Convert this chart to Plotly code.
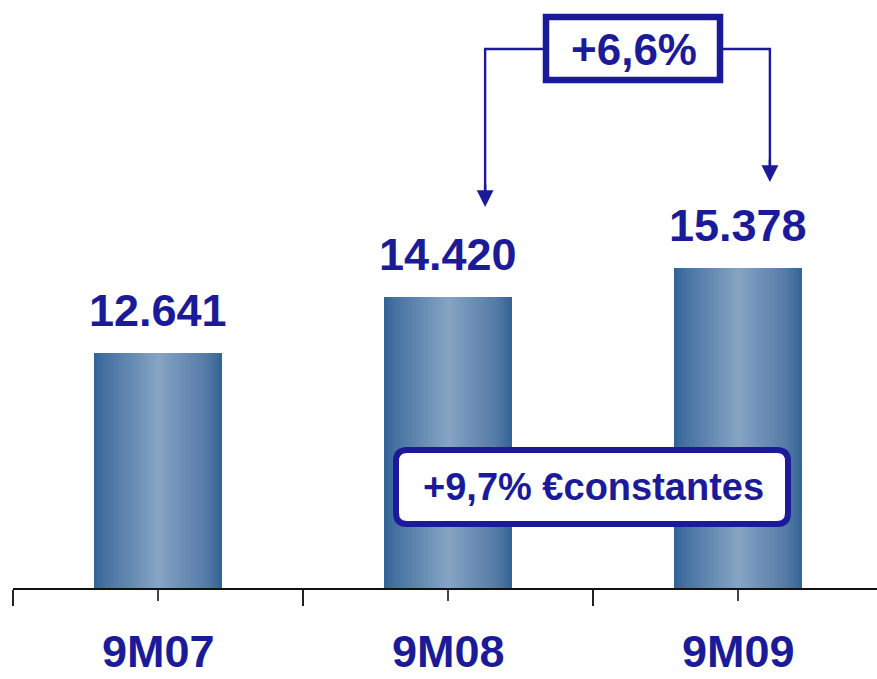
import plotly.graph_objects as go

# ---- data ----
CATEGORIES = ["9M07", "9M08", "9M09"]
VALUES = [12641, 14420, 15378]
VALUE_LABELS = ["12.641", "14.420", "15.378"]
GROWTH_LABEL = "+6,6%"
CONSTANT_LABEL = "+9,7% €constantes"

# ---- layout constants ----
W, H = 877, 679
ML, MB = 13, 91
PLOT_W = W - ML
PLOT_H = H - MB
CAT_PX = 290                      # width of one category slot in pixels
Y_MIN, Y_MAX = 5065, 5065 + PLOT_H / 0.03106
X_RANGE = [-0.5, -0.5 + PLOT_W / CAT_PX]
BAR_W = 0.441
PX_PER_UNIT = PLOT_H / (Y_MAX - Y_MIN)

NAVY = "#1b1b99"
FONT = "Liberation Sans, Arial, Helvetica, sans-serif"


def px_x(p):
    """page x pixel -> paper x"""
    return (p - ML) / PLOT_W


def px_y(p):
    """page y pixel -> paper y"""
    return (PLOT_H - p) / PLOT_H


# horizontal shading across each bar: dark edges, light centre
STOPS = [(0.0, (50, 99, 150)), (0.10, (72, 115, 162)), (0.50, (134, 164, 196)),
         (0.88, (84, 122, 167)), (1.0, (50, 99, 150))]


def shade(t):
    for (t0, c0), (t1, c1) in zip(STOPS[:-1], STOPS[1:]):
        if t0 <= t <= t1:
            f = (t - t0) / (t1 - t0)
            r, g, b = (round(a + (b_ - a) * f) for a, b_ in zip(c0, c1))
            return f"rgb({r},{g},{b})"
    return "rgb(50,99,150)"


fig = go.Figure()
xs = list(range(len(CATEGORIES)))
N_SLICES = 48
step = BAR_W / N_SLICES
for k in range(N_SLICES):
    fig.add_trace(go.Bar(
        x=xs, y=VALUES,
        width=step * 1.15,
        offset=-BAR_W / 2 + k * step,
        marker=dict(color=shade((k + 0.5) / N_SLICES), line=dict(width=0)),
        hoverinfo="skip", showlegend=False,
    ))

annotations = []
# value labels above the bars
for x, v, lab in zip(xs, VALUES, VALUE_LABELS):
    annotations.append(dict(x=x, y=v, xref="x", yref="y", text=lab, showarrow=False,
                            xanchor="center", yanchor="bottom", yshift=15,
                            font=dict(family=FONT, size=45, color=NAVY, weight="bold")))
# category labels
for x, c in zip(xs, CATEGORIES):
    annotations.append(dict(x=x, y=px_y(652), xref="x", yref="paper", text=c,
                            showarrow=False, xanchor="center", yanchor="middle",
                            font=dict(family=FONT, size=45, color=NAVY, weight="bold")))

# growth bracket between 9M08 and 9M09
ARROW_X = [1 + 0.128, 2 + 0.11]
ARROW_GAP = [2910, 2760]
tips = [VALUES[1] + ARROW_GAP[0], VALUES[2] + ARROW_GAP[1]]
LINE_Y = Y_MIN + (PLOT_H - 49) / PX_PER_UNIT
stub = 12 / PX_PER_UNIT
shapes = [
    dict(type="path", xref="x", yref="y", layer="above",
         path=(f"M{ARROW_X[0]},{tips[0] + stub} L{ARROW_X[0]},{LINE_Y} "
               f"L{ARROW_X[1]},{LINE_Y} L{ARROW_X[1]},{tips[1] + stub}"),
         line=dict(color=NAVY, width=2.4)),
    dict(type="rect", xref="paper", yref="paper", layer="above",
         x0=px_x(546), x1=px_x(720), y0=px_y(80), y1=px_y(17),
         line=dict(color=NAVY, width=6.5), fillcolor="white"),
]
for ax_, tip in zip(ARROW_X, tips):
    annotations.append(dict(x=ax_, y=tip, xref="x", yref="y", text="",
                            showarrow=True, ax=0, ay=-24, arrowhead=2,
                            arrowsize=1.4, arrowwidth=2.4, arrowcolor=NAVY, standoff=0))
annotations.append(dict(x=px_x(634), y=px_y(50), xref="paper", yref="paper",
                        text=GROWTH_LABEL, showarrow=False,
                        xanchor="center", yanchor="middle",
                        font=dict(family=FONT, size=44, color=NAVY, weight="bold")))

# rounded box for the constant-currency growth
bx0, bx1, by0, by1, r = 396, 788, 450, 524, 11
rx, ry = r / PLOT_W, r / PLOT_H
X0, X1, Yt, Yb = px_x(bx0), px_x(bx1), px_y(by0), px_y(by1)
rounded = (f"M{X0 + rx},{Yt} L{X1 - rx},{Yt} Q{X1},{Yt} {X1},{Yt - ry} "
           f"L{X1},{Yb + ry} Q{X1},{Yb} {X1 - rx},{Yb} "
           f"L{X0 + rx},{Yb} Q{X0},{Yb} {X0},{Yb + ry} "
           f"L{X0},{Yt - ry} Q{X0},{Yt} {X0 + rx},{Yt} Z")
shapes.append(dict(type="path", xref="paper", yref="paper", layer="above", path=rounded,
                   line=dict(color=NAVY, width=6), fillcolor="white"))
annotations.append(dict(x=px_x(593), y=px_y(487), xref="paper", yref="paper",
                        text=CONSTANT_LABEL, showarrow=False,
                        xanchor="center", yanchor="middle",
                        font=dict(family=FONT, size=38, color=NAVY, weight="bold")))

fig.update_layout(
    width=W, height=H,
    margin=dict(l=ML, r=0, t=0, b=MB, pad=0),
    paper_bgcolor="white", plot_bgcolor="white",
    barmode="overlay", bargap=0,
    showlegend=False,
    xaxis=dict(range=X_RANGE, showgrid=False, zeroline=False, fixedrange=True,
               showline=True, linecolor="#111111", linewidth=1.5,
               tickmode="array", tickvals=xs, showticklabels=False,
               ticks="outside", ticklen=11, tickwidth=1.5, tickcolor="#444444",
               minor=dict(tickmode="array", tickvals=[-0.5, 0.5, 1.5],
                          ticks="outside", ticklen=16, tickwidth=1.5,
                          tickcolor="#222222", showgrid=False)),
    yaxis=dict(range=[Y_MIN, Y_MAX], visible=False, fixedrange=True),
    shapes=shapes,
    annotations=annotations,
)

fig.write_html("out.html")
